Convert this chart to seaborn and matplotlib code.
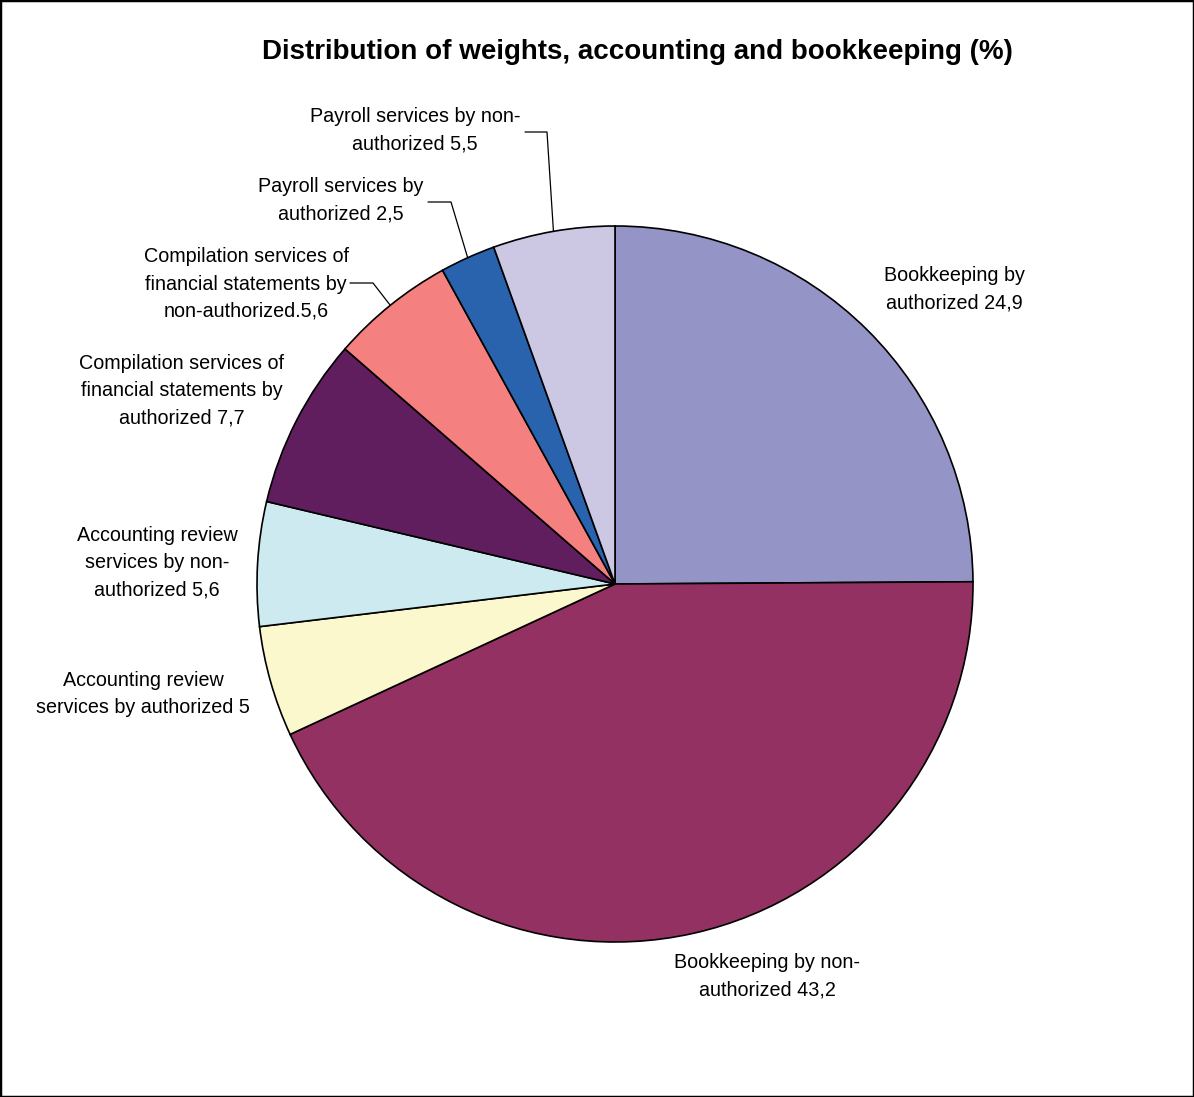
import numpy as np
import matplotlib
matplotlib.use("Agg")
import matplotlib.pyplot as plt
import seaborn as sns
from matplotlib.patches import Rectangle

sns.set_theme(style="white")
plt.rcParams['font.family'] = ['Liberation Sans', 'DejaVu Sans']

title = "Distribution of weights, accounting and bookkeeping (%)"
labels = [
    "Bookkeeping by\nauthorized 24,9",
    "Bookkeeping by non-\nauthorized 43,2",
    "Accounting review\nservices by authorized 5",
    "Accounting review\nservices by non-\nauthorized 5,6",
    "Compilation services of\nfinancial statements by\nauthorized 7,7",
    "Compilation services of\nfinancial statements by\nnon-authorized.5,6",
    "Payroll services by\nauthorized 2,5",
    "Payroll services by non-\nauthorized 5,5",
]
values = [24.9, 43.2, 5.0, 5.6, 7.7, 5.6, 2.5, 5.5]
colors = ["#9494C7", "#933262", "#FAF8CC", "#CDEAF0", "#611E5E", "#F48080", "#2962AD", "#CCC8E4"]

W, H = 1194, 1097
fig = plt.figure(figsize=(W / 100, H / 100), dpi=100)
cx, cy, R = 615, 584, 358
ax = fig.add_axes([(cx - R) / W, (H - cy - R) / H, 2 * R / W, 2 * R / H])
wedges, _ = ax.pie(values, colors=colors, startangle=90, counterclock=False,
                   wedgeprops=dict(edgecolor="black", linewidth=1.2))
ax.set_xlim(-1, 1)
ax.set_ylim(-1, 1)
ax.set_aspect("equal")
ax.axis("off")

def d(px, py):
    return ((px - cx) / R, (cy - py) / R)

# label positions (pixel centers) and optional leader elbows
label_pos = [(954, 289), (767, 976), (143, 694), (157, 563), (182, 391), (246, 284), (341, 200), (415, 130)]
leaders = {5: [(350, 283), (373, 283)], 6: [(428, 202), (451, 202)], 7: [(525, 132), (547, 132)]}

for i, (lab, (px, py)) in enumerate(zip(labels, label_pos)):
    x, y = d(px, py)
    ax.text(x, y, lab, ha="center", va="center", fontsize=14.2, linespacing=1.55,
            color="black", clip_on=False)
    if i in leaders:
        w = wedges[i]
        mid = np.deg2rad((w.theta1 + w.theta2) / 2)
        pts = [d(*p) for p in leaders[i]] + [(np.cos(mid), np.sin(mid))]
        xs, ys = zip(*pts)
        ax.plot(xs, ys, color="black", lw=0.9, clip_on=False)

fig.text(637 / W, 1 - 52 / H, title, ha="center", va="center", fontsize=20,
         fontweight="bold", color="black")
fig.patches.append(Rectangle((0, 0), 1, 1, transform=fig.transFigure, fill=False,
                             edgecolor="black", linewidth=2.5))
fig.savefig("out.png", dpi=100)
